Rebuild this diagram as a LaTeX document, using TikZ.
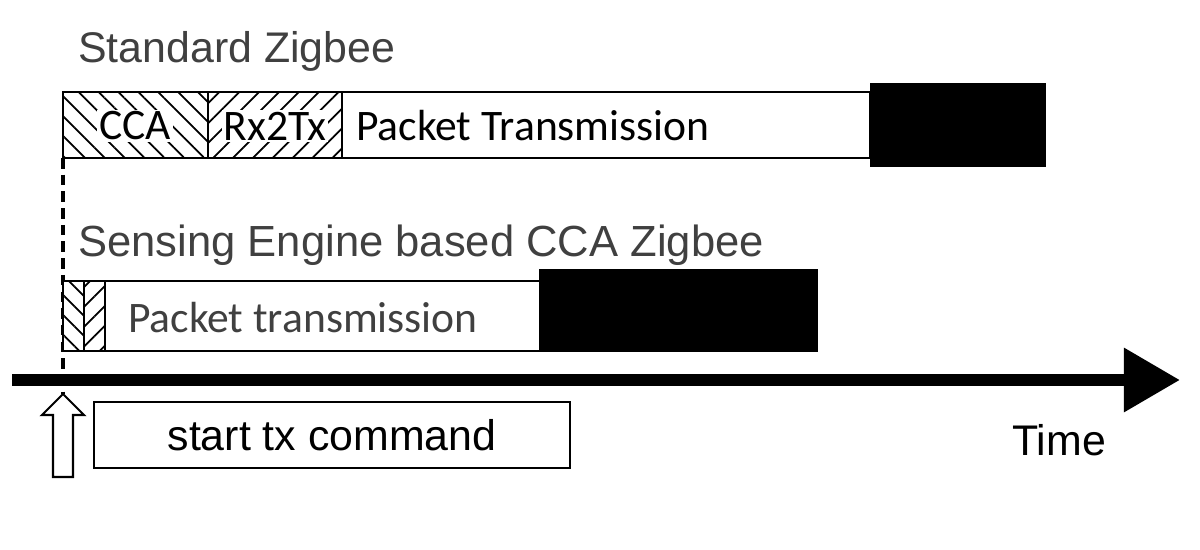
\documentclass[tikz,border=0pt]{standalone}
\usepackage{fontspec}
\setmainfont{Liberation Sans}
\newfontfamily\calibri{Carlito}
\usetikzlibrary{positioning,arrows.meta,patterns.meta}

\definecolor{titlegray}{RGB}{64,64,64}

\tikzset{
  bar/.style={draw=black,line width=1.7pt},
  hatchNW/.style={bar,pattern={Lines[angle=-45,distance=8pt,line width=1pt]}},
  hatchNE/.style={bar,pattern={Lines[angle=45,distance=8pt,line width=1pt]}},
  blackbox/.style={fill=black},
  title/.style={anchor=base west,inner sep=0pt,text=titlegray,
    font=\fontsize{24.4}{29}\selectfont},
  seglabel/.style={inner sep=1pt,font=\calibri\fontsize{24.8}{29}\selectfont},
  plain/.style={inner sep=0pt,font=\fontsize{24.4}{29}\selectfont},
}

\begin{document}
\begin{tikzpicture}[x=0.02cm,y=-0.02cm]
  \useasboundingbox (0,0) rectangle (1200,550);

  % Standard Zigbee (top row)
  \node[title] (stdT) at (78,63) {Standard Zigbee};
  \draw[bar,fill=white] (63,92) rectangle (870,158);
  \draw[hatchNW] (63,92) rectangle (208,158);
  \draw[hatchNE] (208,92) rectangle (342,158);
  \fill[blackbox] (870,83) rectangle (1046,167);
  \node[seglabel,fill=white] (cca) at (135,126) {CCA};
  \node[seglabel,fill=white] (r2t) at (275,126) {Rx2Tx};
  \node[seglabel,anchor=west] (ptx) at (354,126) {Packet Transmission};

  % start of transmission marker
  \coordinate (dashTop) at (63,158);
  \coordinate (dashBot) at (63,394);
  \draw[line width=2.2pt,dash pattern=on 6pt off 3.5pt] (dashTop) -- (dashBot);

  % Sensing engine based CCA (bottom row)
  \node[title,font=\fontsize{24.8}{29}\selectfont] (seT) at (78,257) {Sensing Engine based CCA Zigbee};
  \draw[bar,fill=white] (63,281) rectangle (540,351);
  \draw[hatchNW] (63,281) rectangle (84,351);
  \draw[hatchNE] (84,281) rectangle (105,351);
  \fill[blackbox] (539,269) rectangle (818,352);
  \node[seglabel,anchor=west,text=titlegray] (ptx2) at (126,318) {Packet transmission};

  % time axis
  \coordinate (tStart) at (12,380);
  \coordinate (tEnd) at (1180,380);
  \draw[line width=6.8pt,-{Triangle[length=32pt,width=35pt]}] (tStart) -- (tEnd);
  \node[plain,anchor=base west] (time) at (1012,455) {Time};

  % start tx command
  \draw[line width=1.2pt,fill=white] (63,394) -- (42,415) -- (53,415) -- (53,477)
    -- (73,477) -- (73,415) -- (84,415) -- cycle;
  \node[plain,draw,line width=1.1pt,minimum width=9.52cm,minimum height=1.32cm]
    (cmd) at (332,435) {start tx command};
\end{tikzpicture}
\end{document}
